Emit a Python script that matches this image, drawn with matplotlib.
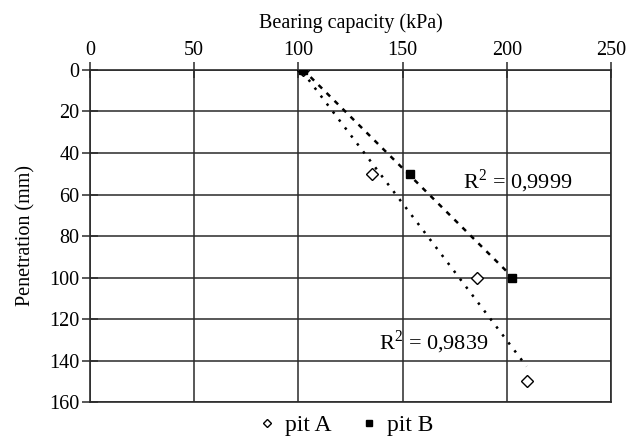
import matplotlib
matplotlib.use("Agg")
import matplotlib.pyplot as plt
import numpy as np

plt.rcParams['font.family'] = ['Liberation Serif', 'DejaVu Serif']
plt.rcParams['mathtext.fontset'] = 'custom'
plt.rcParams['mathtext.rm'] = 'Liberation Serif'

# data
pitA_kpa = [102, 135.5, 185.5, 209.5]
pitA_mm = [0, 50, 100, 150]
pitB_kpa = [102, 153.5, 202.5]
pitB_mm = [0, 50, 100]
r2_labels = ["R$^{2}$ = 0,9999", "R$^{2}$ = 0,9839"]
xticks = [0, 50, 100, 150, 200, 250]
yticks = [0, 20, 40, 60, 80, 100, 120, 140, 160]

fig = plt.figure(figsize=(6.29, 4.36), dpi=100)
ax = fig.add_axes([90/629, 1-402/436, 521/629, 332/436])

gc = '#2a2a2a'
for v in xticks:
    ax.axvline(v, color=gc, lw=1.1, zorder=1)
for v in yticks:
    ax.axhline(v, color=gc, lw=1.1, zorder=1)

# linear trendlines (Excel style, y on x)
for xs, ys, ls in [(pitA_kpa, pitA_mm, (0, (1, 3))), (pitB_kpa, pitB_mm, (0, (2, 2.5)))]:
    a, b = np.polyfit(xs, ys, 1)
    xx = np.array([min(xs), max(xs)])
    ax.plot(xx, a*xx + b, color='black', lw=1.8, ls=ls, zorder=2)

ax.plot(pitA_kpa, pitA_mm, ls='none', marker='D', ms=6, mfc='white', mec='black',
        mew=1.0, label='pit A', zorder=3)
ax.plot(pitB_kpa, pitB_mm, ls='none', marker='s', ms=5.5, color='black',
        label='pit B', zorder=4)
ax.plot([pitA_kpa[0]], [pitA_mm[0]], 'o', color='black', ms=6, zorder=5)

ax.text(179, 53.5, r2_labels[0], fontsize=16, va='center', ha='left')
ax.text(138.5, 131, r2_labels[1], fontsize=16, va='center', ha='left')

ax.set_xlim(0, 250)
ax.set_ylim(160, 0)
ax.set_xticks(xticks)
ax.set_yticks(yticks)
ax.xaxis.tick_top()
ax.xaxis.set_label_position('top')
ax.tick_params(axis='both', direction='inout', length=11, width=1.1, color=gc,
               labelsize=14.5, pad=2)
ax.set_xlabel('Bearing capacity (kPa)', fontsize=14.5, labelpad=9)
ax.set_ylabel('Penetration (mm)', fontsize=14.5, labelpad=10)
for s in ax.spines.values():
    s.set_color(gc)
    s.set_linewidth(1.2)

fig.legend(loc='center', bbox_to_anchor=(0.545, 0.025), ncol=2, frameon=False,
           fontsize=17, handletextpad=0.1, columnspacing=0.95, handlelength=1.3,
           markerscale=0.75)

fig.savefig('out.png', dpi=100)
